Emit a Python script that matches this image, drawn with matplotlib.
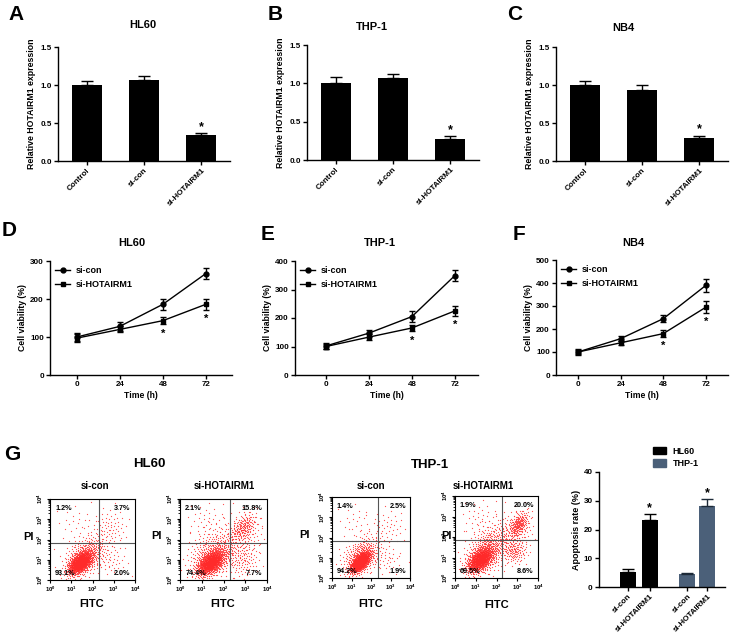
import numpy as np
import matplotlib
matplotlib.use('Agg')
import matplotlib.pyplot as plt
from matplotlib.patches import Patch

plt.rcParams['font.family'] = ['Liberation Sans', 'DejaVu Sans']
plt.rcParams['font.weight'] = 'bold'
plt.rcParams['axes.labelweight'] = 'bold'
plt.rcParams['mathtext.fontset'] = 'custom'
plt.rcParams['mathtext.rm'] = 'Liberation Sans:bold'
plt.rcParams['mathtext.bf'] = 'Liberation Sans:bold'
plt.rcParams['mathtext.default'] = 'rm'

# ---- data ----
groups = ['Control', 'si-con', 'si-HOTAIRM1']
hl60_expr = [1.00, 1.06, 0.34]
hl60_expr_err = [0.05, 0.06, 0.03]
thp1_expr = [1.00, 1.07, 0.28]
thp1_expr_err = [0.08, 0.05, 0.03]
nb4_expr = [1.00, 0.93, 0.30]
nb4_expr_err = [0.05, 0.07, 0.035]

time_h = [0, 24, 48, 72]
hl60_con = [100, 128, 186, 267]
hl60_con_err = [10, 12, 15, 15]
hl60_kd = [97, 120, 143, 186]
hl60_kd_err = [10, 8, 10, 14]
thp1_con = [102, 147, 205, 349]
thp1_con_err = [10, 12, 18, 20]
thp1_kd = [100, 133, 165, 225]
thp1_kd_err = [10, 10, 12, 18]
nb4_con = [100, 158, 245, 390]
nb4_con_err = [12, 10, 15, 28]
nb4_kd = [100, 140, 180, 295]
nb4_kd_err = [10, 8, 15, 25]

apop_groups = ['si-con', 'si-HOTAIRM1']
hl60_apop = [5.3, 23.3]
hl60_apop_err = [0.8, 2.0]
thp1_apop = [4.4, 28.3]
thp1_apop_err = [0.6, 2.3]

# quadrant percentages: UL, UR, LL, LR
hl60_con_pct = ['1.2%', '3.7%', '93.1%', '2.0%']
hl60_kd_pct = ['2.1%', '15.8%', '74.4%', '7.7%']
thp1_con_pct = ['1.4%', '2.5%', '94.2%', '1.9%']
thp1_kd_pct = ['1.9%', '20.0%', '69.5%', '8.6%']

# event clouds: log10 FITC centre, log10 PI centre, sd x, sd y, correlation, events
hl60_con_cells = [(1.4, 0.85, 0.28, 0.28, 0.5, 850), (1.7, 1.2, 0.5, 0.5, 0.4, 400),
                  (2.8, 2.6, 0.45, 0.5, 0.0, 70), (2.9, 0.9, 0.4, 0.4, 0.0, 40),
                  (1.2, 2.8, 0.5, 0.5, 0.0, 25)]
hl60_kd_cells = [(1.4, 0.85, 0.32, 0.32, 0.5, 850), (1.6, 1.3, 0.6, 0.6, 0.3, 450),
                 (2.9, 2.6, 0.3, 0.35, 0.5, 150), (2.9, 2.3, 0.5, 0.6, 0.0, 120),
                 (2.9, 1.0, 0.4, 0.5, 0.0, 110), (1.2, 2.9, 0.5, 0.5, 0.0, 40)]
thp1_con_cells = [(1.45, 0.8, 0.25, 0.25, 0.6, 850), (1.5, 1.1, 0.5, 0.5, 0.4, 350),
                  (2.9, 2.5, 0.5, 0.5, 0.0, 45), (2.8, 0.9, 0.4, 0.4, 0.0, 35),
                  (1.2, 2.8, 0.5, 0.5, 0.0, 25)]
thp1_kd_cells = [(1.2, 0.9, 0.32, 0.32, 0.5, 800), (1.6, 1.4, 0.55, 0.6, 0.4, 450),
                 (3.05, 2.6, 0.25, 0.32, 0.5, 190), (2.9, 2.2, 0.5, 0.6, 0.0, 120),
                 (2.85, 1.3, 0.3, 0.3, 0.0, 110), (1.2, 2.9, 0.5, 0.5, 0.0, 40)]

W, H = 730, 639
fig = plt.figure(figsize=(W / 100, H / 100), dpi=100)


def px_axes(l, t, r, b):
    return fig.add_axes([l / W, 1 - b / H, (r - l) / W, (b - t) / H])


def ftext(x, y, s, **kw):
    fig.text(x / W, 1 - y / H, s, ha=kw.pop('ha', 'center'), va=kw.pop('va', 'center'), **kw)


def style(ax):
    ax.spines['top'].set_visible(False)
    ax.spines['right'].set_visible(False)
    ax.spines['left'].set_linewidth(1.0)
    ax.spines['bottom'].set_linewidth(1.0)
    ax.tick_params(width=1.0, length=3, labelsize=5.8, pad=1.5)


def expr_panel(ax, vals, errs):
    x = np.arange(len(groups))
    ax.bar(x, vals, width=0.52, color='black')
    ax.errorbar(x, vals, yerr=[np.zeros(len(vals)), errs], fmt='none', ecolor='black',
                elinewidth=1.0, capsize=4, capthick=1.0)
    ax.text(x[2], vals[2] + errs[2], '*', ha='center', va='bottom', fontsize=9)
    ax.set_xlim(-0.5, 2.5)
    ax.set_ylim(0, 1.5)
    ax.set_yticks([0, 0.5, 1.0, 1.5])
    ax.set_yticklabels(['0.0', '0.5', '1.0', '1.5'])
    ax.set_xticks(x)
    ax.set_xticklabels(groups, rotation=45, ha='right', rotation_mode='anchor')
    ax.set_ylabel('Relative HOTAIRM1 expression', fontsize=6.3, labelpad=3)
    style(ax)


def growth_panel(ax, con, con_err, kd, kd_err, ymax, xlim):
    ax.plot(time_h, con, '-o', color='black', ms=3.5, lw=1.0, label='si-con')
    ax.plot(time_h, kd, '-s', color='black', ms=3.5, lw=1.0, label='si-HOTAIRM1')
    ax.errorbar(time_h, con, yerr=con_err, fmt='none', ecolor='black', elinewidth=1.0, capsize=2.5)
    ax.errorbar(time_h, kd, yerr=kd_err, fmt='none', ecolor='black', elinewidth=1.0, capsize=2.5)
    for i in (2, 3):
        ax.annotate('*', (time_h[i], kd[i] - kd_err[i]), xytext=(0, -3), textcoords='offset points',
                    ha='center', va='top', fontsize=8)
    ax.set_xlim(*xlim)
    ax.set_ylim(0, ymax)
    ax.set_xticks(time_h)
    ax.set_yticks(np.arange(0, ymax + 1, 100))
    ax.set_xlabel('Time (h)', fontsize=6.2, labelpad=2)
    ax.set_ylabel('Cell viability (%)', fontsize=6.2, labelpad=2)
    ax.legend(loc='upper left', frameon=False, fontsize=6.5, handlelength=1.6,
              borderaxespad=0.2, labelspacing=0.5, handletextpad=0.6)
    style(ax)


def cloud(cx, cy, sx, sy, rho, n):
    i = np.arange(n)
    r = np.sqrt(-2 * np.log(1 - (i + 0.5) / n))
    t = i * 2.399963
    u, v = r * np.cos(t), r * np.sin(t)
    return cx + sx * u, cy + sy * (rho * u + np.sqrt(1 - rho ** 2) * v)


def flow_panel(ax, cells, pct, gate_x, gate_y):
    ax.set_xscale('log')
    ax.set_yscale('log')
    for c in cells:
        lx, ly = cloud(*c)
        keep = (lx > 0.02) & (lx < 3.98) & (ly > 0.02) & (ly < 3.98)
        ax.plot(10 ** lx[keep], 10 ** ly[keep], 's', ms=0.8, color='#ff2a2a', mec='none', alpha=0.8)
    ax.set_xlim(1, 1e4)
    ax.set_ylim(1, 1e4)
    ax.axvline(gate_x, color='#555555', lw=0.8)
    ax.axhline(gate_y, color='#555555', lw=0.8)
    for sp in ax.spines.values():
        sp.set_linewidth(0.8)
    ax.tick_params(which='major', width=0.8, length=2.5, labelsize=4.2, pad=1)
    ax.tick_params(which='minor', width=0.6, length=1.5)
    ax.set_xticks([1, 10, 100, 1000, 10000])
    ax.set_yticks([1, 10, 100, 1000, 10000])
    for lab in ax.get_yticklabels():
        lab.set_rotation(90)
        lab.set_va('center')
    kw = dict(transform=ax.transAxes, fontsize=5.2)
    ax.text(0.06, 0.93, pct[0], ha='left', va='top', **kw)
    ax.text(0.95, 0.93, pct[1], ha='right', va='top', **kw)
    ax.text(0.06, 0.04, pct[2], ha='left', va='bottom', **kw)
    ax.text(0.95, 0.04, pct[3], ha='right', va='bottom', **kw)


# ---- A-C ----
axA = px_axes(58, 47, 230, 161)
expr_panel(axA, hl60_expr, hl60_expr_err)
axB = px_axes(307, 45, 479, 160)
expr_panel(axB, thp1_expr, thp1_expr_err)
axC = px_axes(556, 47, 728, 161)
expr_panel(axC, nb4_expr, nb4_expr_err)

# ---- D-F ----
axD = px_axes(50, 261, 232, 375)
growth_panel(axD, hl60_con, hl60_con_err, hl60_kd, hl60_kd_err, 300, (-15, 86.6))
axE = px_axes(295, 261, 478, 375)
growth_panel(axE, thp1_con, thp1_con_err, thp1_kd, thp1_kd_err, 400, (-17.3, 84.9))
axF = px_axes(556, 260, 728, 375)
growth_panel(axF, nb4_con, nb4_con_err, nb4_kd, nb4_kd_err, 500, (-12.4, 84.4))

# ---- G flow ----
f1 = px_axes(50, 499, 135, 580)
flow_panel(f1, hl60_con_cells, hl60_con_pct, 200, 68)
f2 = px_axes(180, 499, 267, 580)
flow_panel(f2, hl60_kd_cells, hl60_kd_pct, 190, 68)
f3 = px_axes(332, 497, 410, 578)
flow_panel(f3, thp1_con_cells, thp1_con_pct, 230, 68)
f4 = px_axes(455, 496, 538, 578)
flow_panel(f4, thp1_kd_cells, thp1_kd_pct, 180, 68)

# ---- G apoptosis bars ----
axG = px_axes(599, 472, 725, 587)
pos_hl = np.array([0.0, 1.0])
pos_thp = np.array([2.7, 3.6])
thp_col = '#4b6079'
axG.bar(pos_hl, hl60_apop, width=0.72, color='black')
axG.bar(pos_thp, thp1_apop, width=0.72, color=thp_col)
axG.errorbar(pos_hl, hl60_apop, yerr=[[0, 0], hl60_apop_err], fmt='none', ecolor='black',
             elinewidth=1.0, capsize=4)
axG.errorbar(pos_thp, thp1_apop, yerr=[[0, 0], thp1_apop_err], fmt='none', ecolor='#1d2a38',
             elinewidth=1.0, capsize=4)
axG.text(pos_hl[1], hl60_apop[1] + hl60_apop_err[1], '*', ha='center', va='bottom', fontsize=9)
axG.text(pos_thp[1], thp1_apop[1] + thp1_apop_err[1], '*', ha='center', va='bottom', fontsize=9)
axG.set_xlim(-1.3, 4.4)
axG.set_ylim(0, 40)
axG.set_yticks([0, 10, 20, 30, 40])
axG.set_xticks(np.concatenate([pos_hl, pos_thp]))
axG.set_xticklabels(apop_groups * 2, rotation=45, ha='right', rotation_mode='anchor')
axG.set_ylabel('Apoptosis rate (%)', fontsize=6.5, labelpad=2)
style(axG)
axG.legend(handles=[Patch(color='black', label='HL60'), Patch(color=thp_col, label='THP-1')],
           loc='upper left', bbox_to_anchor=(0.4, 1.25), frameon=False, fontsize=6.5,
           handlelength=1.4, handleheight=0.9, labelspacing=0.35, borderaxespad=0)

# ---- texts ----
for letter, x, y in [('A', 16, 15), ('B', 275, 15), ('C', 515, 15),
                     ('D', 9, 231), ('E', 268, 235), ('F', 519, 235), ('G', 12, 455)]:
    ftext(x, y, letter, fontsize=15)
for title, x, y in [('HL60', 143, 25), ('THP-1', 372, 27), ('NB4', 623, 28),
                    ('HL60', 132, 243), ('THP-1', 380, 243), ('NB4', 633, 243)]:
    ftext(x, y, title, fontsize=8)
ftext(149, 464, 'HL60', fontsize=9.5)
ftext(430, 465, 'THP-1', fontsize=9.5)
for title, x, y in [('si-con', 95, 486), ('si-HOTAIRM1', 224, 486),
                    ('si-con', 371, 486), ('si-HOTAIRM1', 483, 486)]:
    ftext(x, y, title, fontsize=7)
for x, y in [(28, 537), (157, 536), (305, 535), (446, 536)]:
    ftext(x, y, 'PI', fontsize=8)
for x, y in [(92, 604), (223, 604), (371, 604), (497, 605)]:
    ftext(x, y, 'FITC', fontsize=8)

fig.savefig('out.png', dpi=100)
